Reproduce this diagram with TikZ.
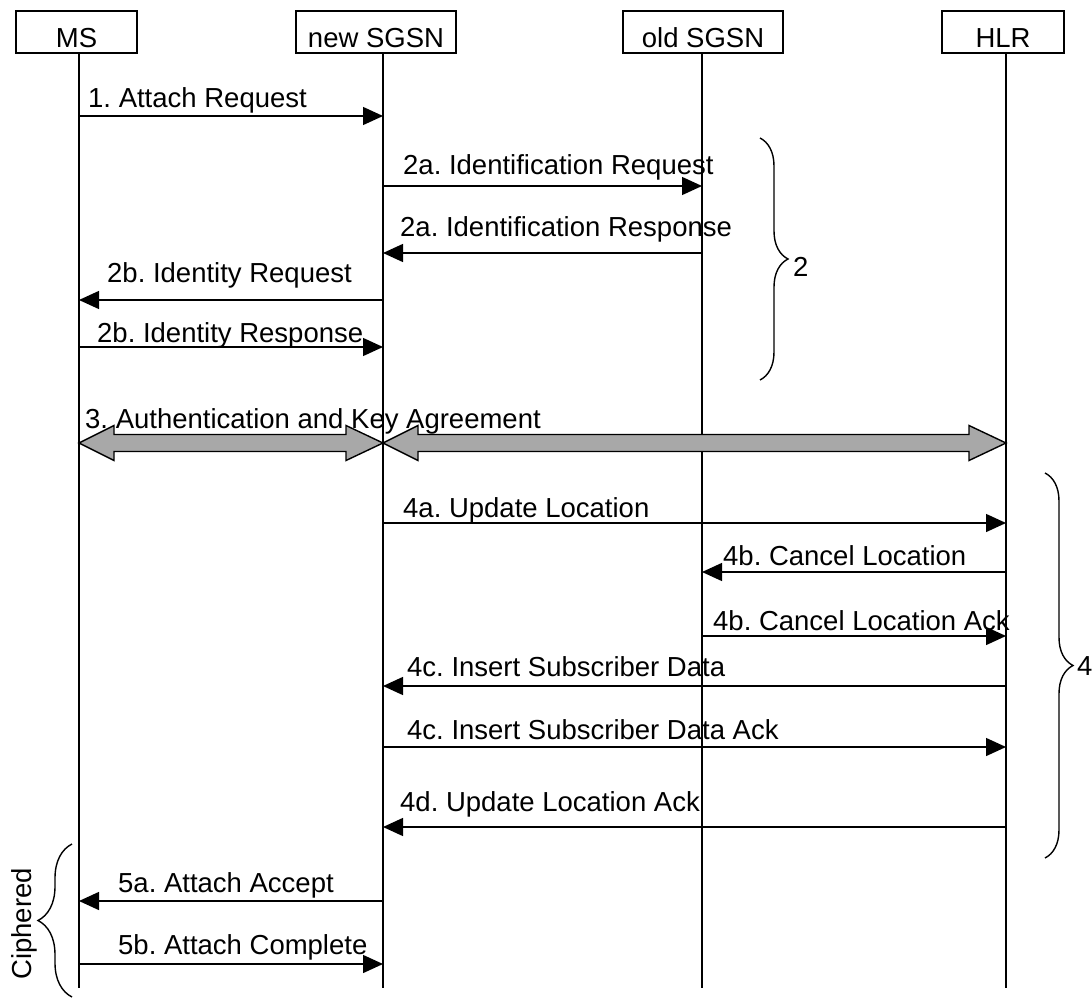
\documentclass[tikz,border=0pt]{standalone}
\usepackage{fontspec}
\setmainfont{Liberation Sans}
\usetikzlibrary{arrows.meta,decorations.pathreplacing,calc}
\frenchspacing
\definecolor{blockgray}{RGB}{168,168,168}
\newcommand\seqmsg[7]{% name, from, to, y, label x, label baseline, text
  \draw[msgarrow] (#2 |- 0,#4) -- (#3 |- 0,#4);
  \node[lbl] (#1) at (#5,#6) {#7};}
\newcommand\blockarrow[3]{% left, right, y
  \draw[blk] let \p1=(#1 |- 0,#3), \p2=(#2 |- 0,#3) in
    (\p1) -- (\x1+35pt,\y1+17.5pt) -- (\x1+35pt,\y1+8.5pt) -- (\x2-37pt,\y1+8.5pt)
    -- (\x2-37pt,\y1+17.5pt) -- (\p2) -- (\x2-37pt,\y1-17.5pt) -- (\x2-37pt,\y1-8.5pt)
    -- (\x1+35pt,\y1-8.5pt) -- (\x1+35pt,\y1-17.5pt) -- cycle;}
\begin{document}
\begin{tikzpicture}[x=1pt,y=-1pt,
  every node/.style={font=\fontsize{27.5pt}{32pt}\selectfont, inner sep=0pt},
  hdr/.style={draw, line width=1.6pt, minimum height=42pt, text height=37pt, text depth=5pt},
  life/.style={line width=1.4pt},
  msgarrow/.style={line width=1.4pt, -{Triangle[length=20pt,width=18pt]}},
  lbl/.style={anchor=base west},
  blk/.style={draw, line width=1.4pt, fill=blockgray},
  brc/.style={line width=1.4pt, decorate}]
\useasboundingbox (0,0) rectangle (1092,1000);

% header boxes
\node[hdr, minimum width=121pt] (msbox)  at (76.5,32) {MS};
\node[hdr, minimum width=160pt] (nwbox)  at (376,32)  {new SGSN};
\node[hdr, minimum width=160pt] (oldbox) at (703,32)  {old SGSN};
\node[hdr, minimum width=122pt] (hlrbox) at (1003,32) {HLR};

% lifelines
\coordinate (ms)  at (79,53);
\coordinate (nw)  at (383,53);
\coordinate (old) at (702,53);
\coordinate (hlr) at (1006,53);
\foreach \c in {ms,nw,old,hlr} \draw[life] (\c) -- (\c |- 0,988);

% messages
\seqmsg{m1}{ms}{nw}{116}{88}{108}{1. Attach Request}
\seqmsg{m2a}{nw}{old}{186}{403}{175}{2a. Identification Request}
\seqmsg{m2ar}{old}{nw}{253}{400}{237}{2a. Identification Response}
\seqmsg{m2b}{nw}{ms}{300}{107}{283}{2b. Identity Request}
\seqmsg{m2br}{ms}{nw}{347}{97}{342}{2b. Identity Response}

\node[lbl] (m3) at (85,428) {3. Authentication and Key Agreement};
\blockarrow{ms}{nw}{443}
\blockarrow{nw}{hlr}{443}

\seqmsg{m4a}{nw}{hlr}{523}{403}{517}{4a. Update Location}
\seqmsg{m4b}{hlr}{old}{572}{723}{565}{4b. Cancel Location}
\seqmsg{m4br}{old}{hlr}{636}{713}{630}{4b. Cancel Location Ack}
\seqmsg{m4c}{hlr}{nw}{686}{407}{676}{4c. Insert Subscriber Data}
\seqmsg{m4cr}{nw}{hlr}{747}{407}{739}{4c. Insert Subscriber Data Ack}
\seqmsg{m4d}{hlr}{nw}{827}{400}{811}{4d. Update Location Ack}
\seqmsg{m5a}{nw}{ms}{901}{118}{892}{5a. Attach Accept}
\seqmsg{m5b}{ms}{nw}{964}{118}{954}{5b. Attach Complete}

% braces
\draw[brc, decoration={brace,amplitude=28pt}] (760,138) -- (760,380);
\node[lbl] (b2) at (793,277) {2};
\draw[brc, decoration={brace,amplitude=28pt}] (1045,473) -- (1045,858);
\node[lbl] (b4) at (1077,675) {4};
\draw[brc, decoration={brace,amplitude=34pt}] (72,997) -- (72,844);
\node[lbl, rotate=90] (ciph) at (31,980) {Ciphered};
\end{tikzpicture}
\end{document}
